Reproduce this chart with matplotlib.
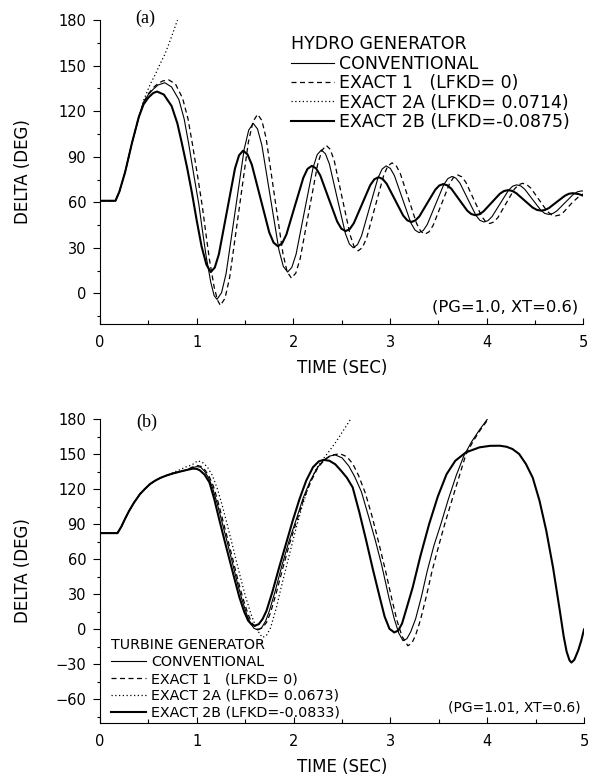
import numpy as np
import matplotlib.pyplot as plt
from matplotlib.ticker import MultipleLocator

# ---- (a) hydro generator ----
a_conv_t = [0, 0.16, 0.2, 0.26, 0.33, 0.40, 0.45, 0.5, 0.55, 0.6, 0.67, 0.74, 0.816, 0.87, 0.918, 0.97,
            1.021, 1.06, 1.097, 1.145, 1.18, 1.21, 1.257, 1.304, 1.3975, 1.491, 1.538, 1.585,
            1.629, 1.674, 1.7625, 1.851, 1.896, 1.94, 1.984, 2.028, 2.115, 2.203, 2.246, 2.29,
            2.331, 2.373, 2.455, 2.538, 2.579, 2.62, 2.663, 2.705, 2.79, 2.875, 2.918, 2.96,
            3.003, 3.045, 3.13, 3.215, 3.258, 3.30, 3.343, 3.385, 3.47, 3.555, 3.598, 3.64,
            3.681, 3.723, 3.805, 3.888, 3.929, 3.97, 4.013, 4.055, 4.14, 4.225, 4.268, 4.31,
            4.351, 4.393, 4.475, 4.558, 4.599, 4.64, 4.683, 4.725, 4.81, 4.895, 4.938, 4.98, 5.0]
a_conv_v = [61, 61, 67, 80, 99, 116, 126, 131, 134.5, 137.3, 138.8, 136, 127.6, 115, 98.2, 78,
            59, 41, 24.6, 7.4, -1.5, -4, 0.4, 13.0, 54, 95.0, 107.6, 112,
            108.3, 97.6, 63, 28.4, 17.7, 14, 17.1, 25.8, 54.25, 82.7, 91.4, 94.5,
            92.0, 85.1, 62.25, 39.4, 32.5, 30, 32.1, 37.9, 57, 76.1, 81.9, 84,
            82.3, 77.6, 62, 46.4, 41.7, 40, 41.4, 45.4, 58.5, 71.6, 75.6, 77,
            75.9, 72.6, 62, 51.4, 48.1, 47, 47.9, 50.6, 59.25, 67.9, 70.6, 71.5,
            70.8, 68.6, 61.75, 54.9, 52.7, 52, 52.6, 54.3, 59.75, 65.2, 66.9, 67.5, 67.4]

a_ex1_t = [0, 0.16, 0.2, 0.26, 0.33, 0.40, 0.45, 0.5, 0.55, 0.6, 0.65, 0.71, 0.78, 0.854, 0.91, 0.956,
           1.01, 1.058, 1.10, 1.133, 1.181, 1.215, 1.245, 1.293, 1.341, 1.4375, 1.534, 1.582, 1.63,
           1.674, 1.718, 1.805, 1.893, 1.936, 1.98, 2.025, 2.07, 2.16, 2.25, 2.295, 2.34,
           2.381, 2.423, 2.505, 2.588, 2.629, 2.67, 2.714, 2.758, 2.845, 2.933, 2.976, 3.02,
           3.063, 3.105, 3.19, 3.275, 3.318, 3.36, 3.403, 3.445, 3.53, 3.615, 3.658, 3.70,
           3.741, 3.783, 3.865, 3.948, 3.989, 4.03, 4.073, 4.115, 4.20, 4.285, 4.328, 4.37,
           4.413, 4.455, 4.54, 4.625, 4.668, 4.71, 4.753, 4.795, 4.88, 4.965, 5.0]
a_ex1_v = [61, 61, 67, 80, 99, 116, 126, 131.5, 135.5, 138.3, 140, 140.7, 138, 128.6, 115, 98.2,
           77, 57.3, 37, 21.7, 3.9, -4.5, -8, -3.2, 10.5, 55, 99.5, 113.2, 118,
           113.9, 102.2, 64, 25.8, 14.1, 10, 13.3, 22.8, 53.75, 84.7, 94.2, 97.5,
           94.9, 87.3, 62.75, 38.2, 30.6, 28, 30.2, 36.5, 57, 77.5, 83.8, 86,
           84.2, 79.1, 62.5, 45.9, 40.8, 39, 40.5, 44.7, 58.5, 72.3, 76.5, 78,
           76.8, 73.3, 62, 50.7, 47.2, 46, 47.0, 49.9, 59.25, 68.6, 71.5, 72.5,
           71.7, 69.4, 61.75, 54.1, 51.8, 51, 51.6, 53.5, 59.5, 64.5, 65.5]

a_ex2a_t = [0, 0.16, 0.2, 0.26, 0.33, 0.40, 0.45, 0.52, 0.57, 0.62, 0.67, 0.71, 0.75, 0.80, 0.82]
a_ex2a_v = [61, 61, 67, 80, 99, 116, 127, 138, 144, 151, 157.5, 164, 171, 180, 184]

a_ex2b_t = [0, 0.16, 0.2, 0.26, 0.33, 0.40, 0.45, 0.5, 0.55, 0.59, 0.66, 0.74, 0.80, 0.845, 0.90, 0.95,
            1.0, 1.05, 1.10, 1.145, 1.187, 1.229, 1.3125, 1.396, 1.438, 1.48,
            1.525, 1.57, 1.66, 1.75, 1.795, 1.84, 1.884, 1.928, 2.015, 2.103, 2.146, 2.19,
            2.234, 2.278, 2.365, 2.453, 2.496, 2.54, 2.583, 2.625, 2.71, 2.795, 2.838, 2.88,
            2.923, 2.965, 3.05, 3.135, 3.178, 3.22, 3.261, 3.303, 3.385, 3.468, 3.509, 3.55,
            3.591, 3.633, 3.715, 3.798, 3.839, 3.88, 3.923, 3.965, 4.05, 4.135, 4.178, 4.22,
            4.263, 4.305, 4.39, 4.475, 4.518, 4.56, 4.601, 4.643, 4.725, 4.808, 4.849, 4.89, 4.95, 5.0]
a_ex2b_v = [61, 61, 67, 80, 99, 116, 124.5, 129, 132, 133, 131, 123.5, 112, 99.3, 83, 66.4,
            48, 31, 19, 14, 17.0, 25.7, 54, 82.3, 91.0, 94,
            91.6, 84.8, 62.5, 40.2, 33.4, 31, 33.0, 38.8, 57.5, 76.2, 82.0, 84,
            82.4, 77.7, 62.5, 47.3, 42.6, 41, 42.35, 46.2, 58.75, 71.3, 75.2, 76.5,
            75.4, 72.2, 61.75, 51.3, 48.1, 47, 48.0, 50.7, 59.5, 68.3, 71.05, 72,
            71.2, 69.0, 61.75, 54.5, 52.3, 51.5, 52.1, 53.9, 59.75, 65.6, 67.4, 68,
            67.5, 66.0, 61.25, 56.5, 55.0, 54.5, 54.9, 56.2, 60.25, 64.3, 65.6, 66, 65.4, 64.3]

# ---- (b) turbine generator ----
b_conv_t = [0, 0.18, 0.22, 0.26, 0.30, 0.35, 0.413, 0.465, 0.517, 0.57, 0.62, 0.69, 0.757, 0.83, 0.895,
            0.95, 1.0, 1.04, 1.08, 1.12, 1.16, 1.21, 1.26, 1.31, 1.365, 1.415, 1.465, 1.515, 1.555,
            1.59, 1.63, 1.67, 1.71, 1.75, 1.81, 1.88, 1.95, 2.03, 2.10, 2.17, 2.24, 2.31, 2.37,
            2.43, 2.50, 2.57, 2.63, 2.70, 2.77, 2.845, 2.91, 2.985, 3.04, 3.085, 3.13, 3.17, 3.21,
            3.26, 3.32, 3.38, 3.45, 3.52, 3.60, 3.68, 3.76, 3.84, 3.92, 4.0, 4.03]
b_conv_v = [82.5, 82.5, 88, 95, 101.5, 108.5, 116, 120.5, 124.6, 127.5, 129.7, 132, 133.7, 135.3, 136.6,
            138.5, 139.5, 139, 135.5, 130, 122, 108, 92, 76, 58, 41, 26, 13, 5,
            1, -0.5, 1.5, 7, 16, 33, 55, 75, 95, 113, 127, 138, 145, 148.5,
            149.5, 147, 140, 131, 118, 98, 76, 55, 27, 9, -3, -9.7, -8, -2,
            9, 28, 50, 72, 90, 112, 132, 149, 161, 171, 180, 184]

b_ex1_t = [0, 0.18, 0.22, 0.26, 0.30, 0.35, 0.413, 0.465, 0.517, 0.57, 0.62, 0.69, 0.757, 0.83, 0.895,
           0.95, 1.0, 1.05, 1.09, 1.13, 1.17, 1.22, 1.27, 1.32, 1.375, 1.425, 1.475, 1.525, 1.565,
           1.60, 1.64, 1.68, 1.72, 1.76, 1.82, 1.89, 1.96, 2.04, 2.11, 2.18, 2.25, 2.32, 2.40,
           2.48, 2.55, 2.61, 2.67, 2.74, 2.81, 2.88, 2.95, 3.02, 3.07, 3.12, 3.18, 3.22, 3.26,
           3.31, 3.37, 3.43, 3.50, 3.56, 3.64, 3.71, 3.78, 3.86, 3.93, 4.0, 4.03]
b_ex1_v = [82.5, 82.5, 88, 95, 101.5, 108.5, 116, 120.5, 124.6, 127.5, 129.7, 132, 133.7, 135.3, 136.6,
           139, 140.5, 139.5, 136, 130.5, 123, 109, 93, 77, 59, 42, 27, 14, 6,
           2, 0, 1.5, 6, 14, 31, 53, 74, 95, 113, 127, 138.5, 145.5, 149.5,
           150.5, 148, 142, 132, 117, 97, 74, 50, 24, 7, -6, -14, -12, -5,
           8, 28, 50, 72, 90, 112, 131, 150, 162, 171, 179, 184]

b_ex2a_t = [0, 0.18, 0.22, 0.26, 0.30, 0.35, 0.413, 0.465, 0.517, 0.57, 0.62, 0.69, 0.757, 0.83, 0.895,
            0.95, 1.01, 1.06, 1.11, 1.16, 1.21, 1.26, 1.32, 1.38, 1.44, 1.50, 1.56, 1.61, 1.65,
            1.68, 1.72, 1.76, 1.82, 1.88, 1.95, 2.02, 2.09, 2.16, 2.23, 2.30, 2.37, 2.44, 2.51,
            2.58, 2.60]
b_ex2a_v = [82.5, 82.5, 88, 95, 101.5, 108.5, 116, 120.5, 124.6, 127.5, 129.7, 132, 134.5, 137, 139.5,
            141, 144.5, 143, 139, 132, 121, 107, 88, 68, 48, 29, 13, 2, -4,
            -6.9, -5, 1, 18, 39, 62, 85, 106, 124, 137, 145.5, 153, 161, 170,
            179, 182]

b_ex2b_t = [0, 0.18, 0.22, 0.26, 0.30, 0.35, 0.413, 0.465, 0.517, 0.57, 0.62, 0.69, 0.757, 0.83, 0.895,
            0.96, 1.0, 1.03, 1.08, 1.13, 1.18, 1.235, 1.29, 1.34, 1.39, 1.44, 1.49, 1.53, 1.565,
            1.60, 1.64, 1.68, 1.72, 1.78, 1.85, 1.92, 1.99, 2.06, 2.13, 2.20, 2.26, 2.31, 2.37,
            2.43, 2.49, 2.55, 2.61, 2.68, 2.75, 2.82, 2.89, 2.94, 2.99, 3.04, 3.08, 3.12, 3.17,
            3.23, 3.31, 3.40, 3.49, 3.58, 3.67, 3.78, 3.92, 4.03, 4.13, 4.20, 4.26, 4.33, 4.40,
            4.47, 4.54, 4.61, 4.68, 4.75, 4.79, 4.82, 4.85, 4.87, 4.90, 4.94, 4.97, 5.0]
b_ex2b_v = [82.5, 82.5, 88, 95, 101.5, 108.5, 116, 120.5, 124.6, 127.5, 129.7, 132, 133.7, 135.3, 136.6,
            137.8, 137.5, 136.4, 132.6, 126, 111.7, 93, 75, 59, 43, 27.4, 15, 7.5, 4.3,
            3.2, 4.5, 9, 16, 32, 53, 73, 93, 111.5, 127.5, 139, 144, 145.3, 144.5,
            141.5, 136, 130, 121.7, 100, 76, 51, 27.4, 11, 0.5, -2.6, -1, 5, 19,
            36, 63, 90.3, 114, 133, 144.5, 151.7, 156, 157.3, 157.4, 156.5, 154.6, 150.3, 141.7,
            130, 110.3, 84.6, 53, 16, -6, -19, -26.5, -28.4, -26, -18, -10, 0]

labels_a = ['CONVENTIONAL', 'EXACT 1   (LFKD= 0)', 'EXACT 2A (LFKD= 0.0714)', 'EXACT 2B (LFKD=-0.0875)']
labels_b = ['CONVENTIONAL', 'EXACT 1   (LFKD= 0)', 'EXACT 2A (LFKD= 0.0673)', 'EXACT 2B (LFKD=-0.0833)']

fig = plt.figure(figsize=(5.99, 7.78), dpi=100)
ax1 = fig.add_axes([0.167, 0.584, 0.807, 0.390])
ax2 = fig.add_axes([0.167, 0.071, 0.808, 0.390])


def draw(ax, series, labels):
    (ct, cv), (e1t, e1v), (at, av), (bt, bv) = series
    ax.plot(ct, cv, color='k', lw=0.8, label=labels[0])
    ax.plot(e1t, e1v, color='k', lw=0.9, dashes=(4, 2.8), label=labels[1])
    ax.plot(at, av, color='k', lw=0.9, dashes=(1, 2), label=labels[2])
    ax.plot(bt, bv, color='k', lw=1.5, label=labels[3])


draw(ax1, [(a_conv_t, a_conv_v), (a_ex1_t, a_ex1_v), (a_ex2a_t, a_ex2a_v), (a_ex2b_t, a_ex2b_v)], labels_a)
draw(ax2, [(b_conv_t, b_conv_v), (b_ex1_t, b_ex1_v), (b_ex2a_t, b_ex2a_v), (b_ex2b_t, b_ex2b_v)], labels_b)

ax1.set_ylim(-20, 180)
ax2.set_ylim(-80, 180)
ax2.set_yticks(np.arange(-60, 181, 30))

for ax in (ax1, ax2):
    ax.spines[['top', 'right']].set_visible(False)
    ax.set_xlim(0, 5)
    ax.xaxis.set_major_locator(MultipleLocator(1))
    ax.xaxis.set_minor_locator(MultipleLocator(0.5))
    ax.yaxis.set_minor_locator(MultipleLocator(15))
    if ax is ax1:
        ax.yaxis.set_major_locator(MultipleLocator(30))
    ax.tick_params(which='both', width=0.8, labelsize=10.5)
    ax.tick_params(axis='y', which='both', direction='out', pad=5)
    ax.tick_params(axis='y', which='major', length=5)
    ax.tick_params(axis='y', which='minor', length=2.5)
    ax.tick_params(axis='x', which='both', direction='in', pad=8)
    ax.tick_params(axis='x', which='major', length=4)
    ax.tick_params(axis='x', which='minor', length=3)
    ax.set_xlabel('TIME (SEC)', fontsize=12)
    ax.set_ylabel('DELTA (DEG)', fontsize=12)
    ax.xaxis.set_label_coords(0.5, -0.115)
    ax.yaxis.set_label_coords(-0.14, 0.5)

ax1.text(0.47, 181, '(a)', ha='center', va='center', fontsize=13, family='Liberation Serif', clip_on=False)
ax2.text(0.48, 177, '(b)', ha='center', va='center', fontsize=13, family='Liberation Serif', clip_on=False)

ax1.legend(loc='upper left', bbox_to_anchor=(0.395, 0.95), frameon=False, title='HYDRO GENERATOR',
           alignment='left', fontsize=12.5, title_fontsize=12.5, handlelength=2.45, handletextpad=0.3,
           labelspacing=0.08, borderpad=0, borderaxespad=0)
ax2.legend(loc='upper left', bbox_to_anchor=(0.022, 0.278), frameon=False, title='TURBINE GENERATOR',
           alignment='left', fontsize=10.3, title_fontsize=10.3, handlelength=2.5, handletextpad=0.32,
           labelspacing=0.2, borderpad=0, borderaxespad=0)

ax1.text(4.95, -9, '(PG=1.0, XT=0.6)', ha='right', va='center', fontsize=11.8)
ax2.text(4.97, -67, '(PG=1.01, XT=0.6)', ha='right', va='center', fontsize=10)

fig.savefig('out.png', dpi=100)
